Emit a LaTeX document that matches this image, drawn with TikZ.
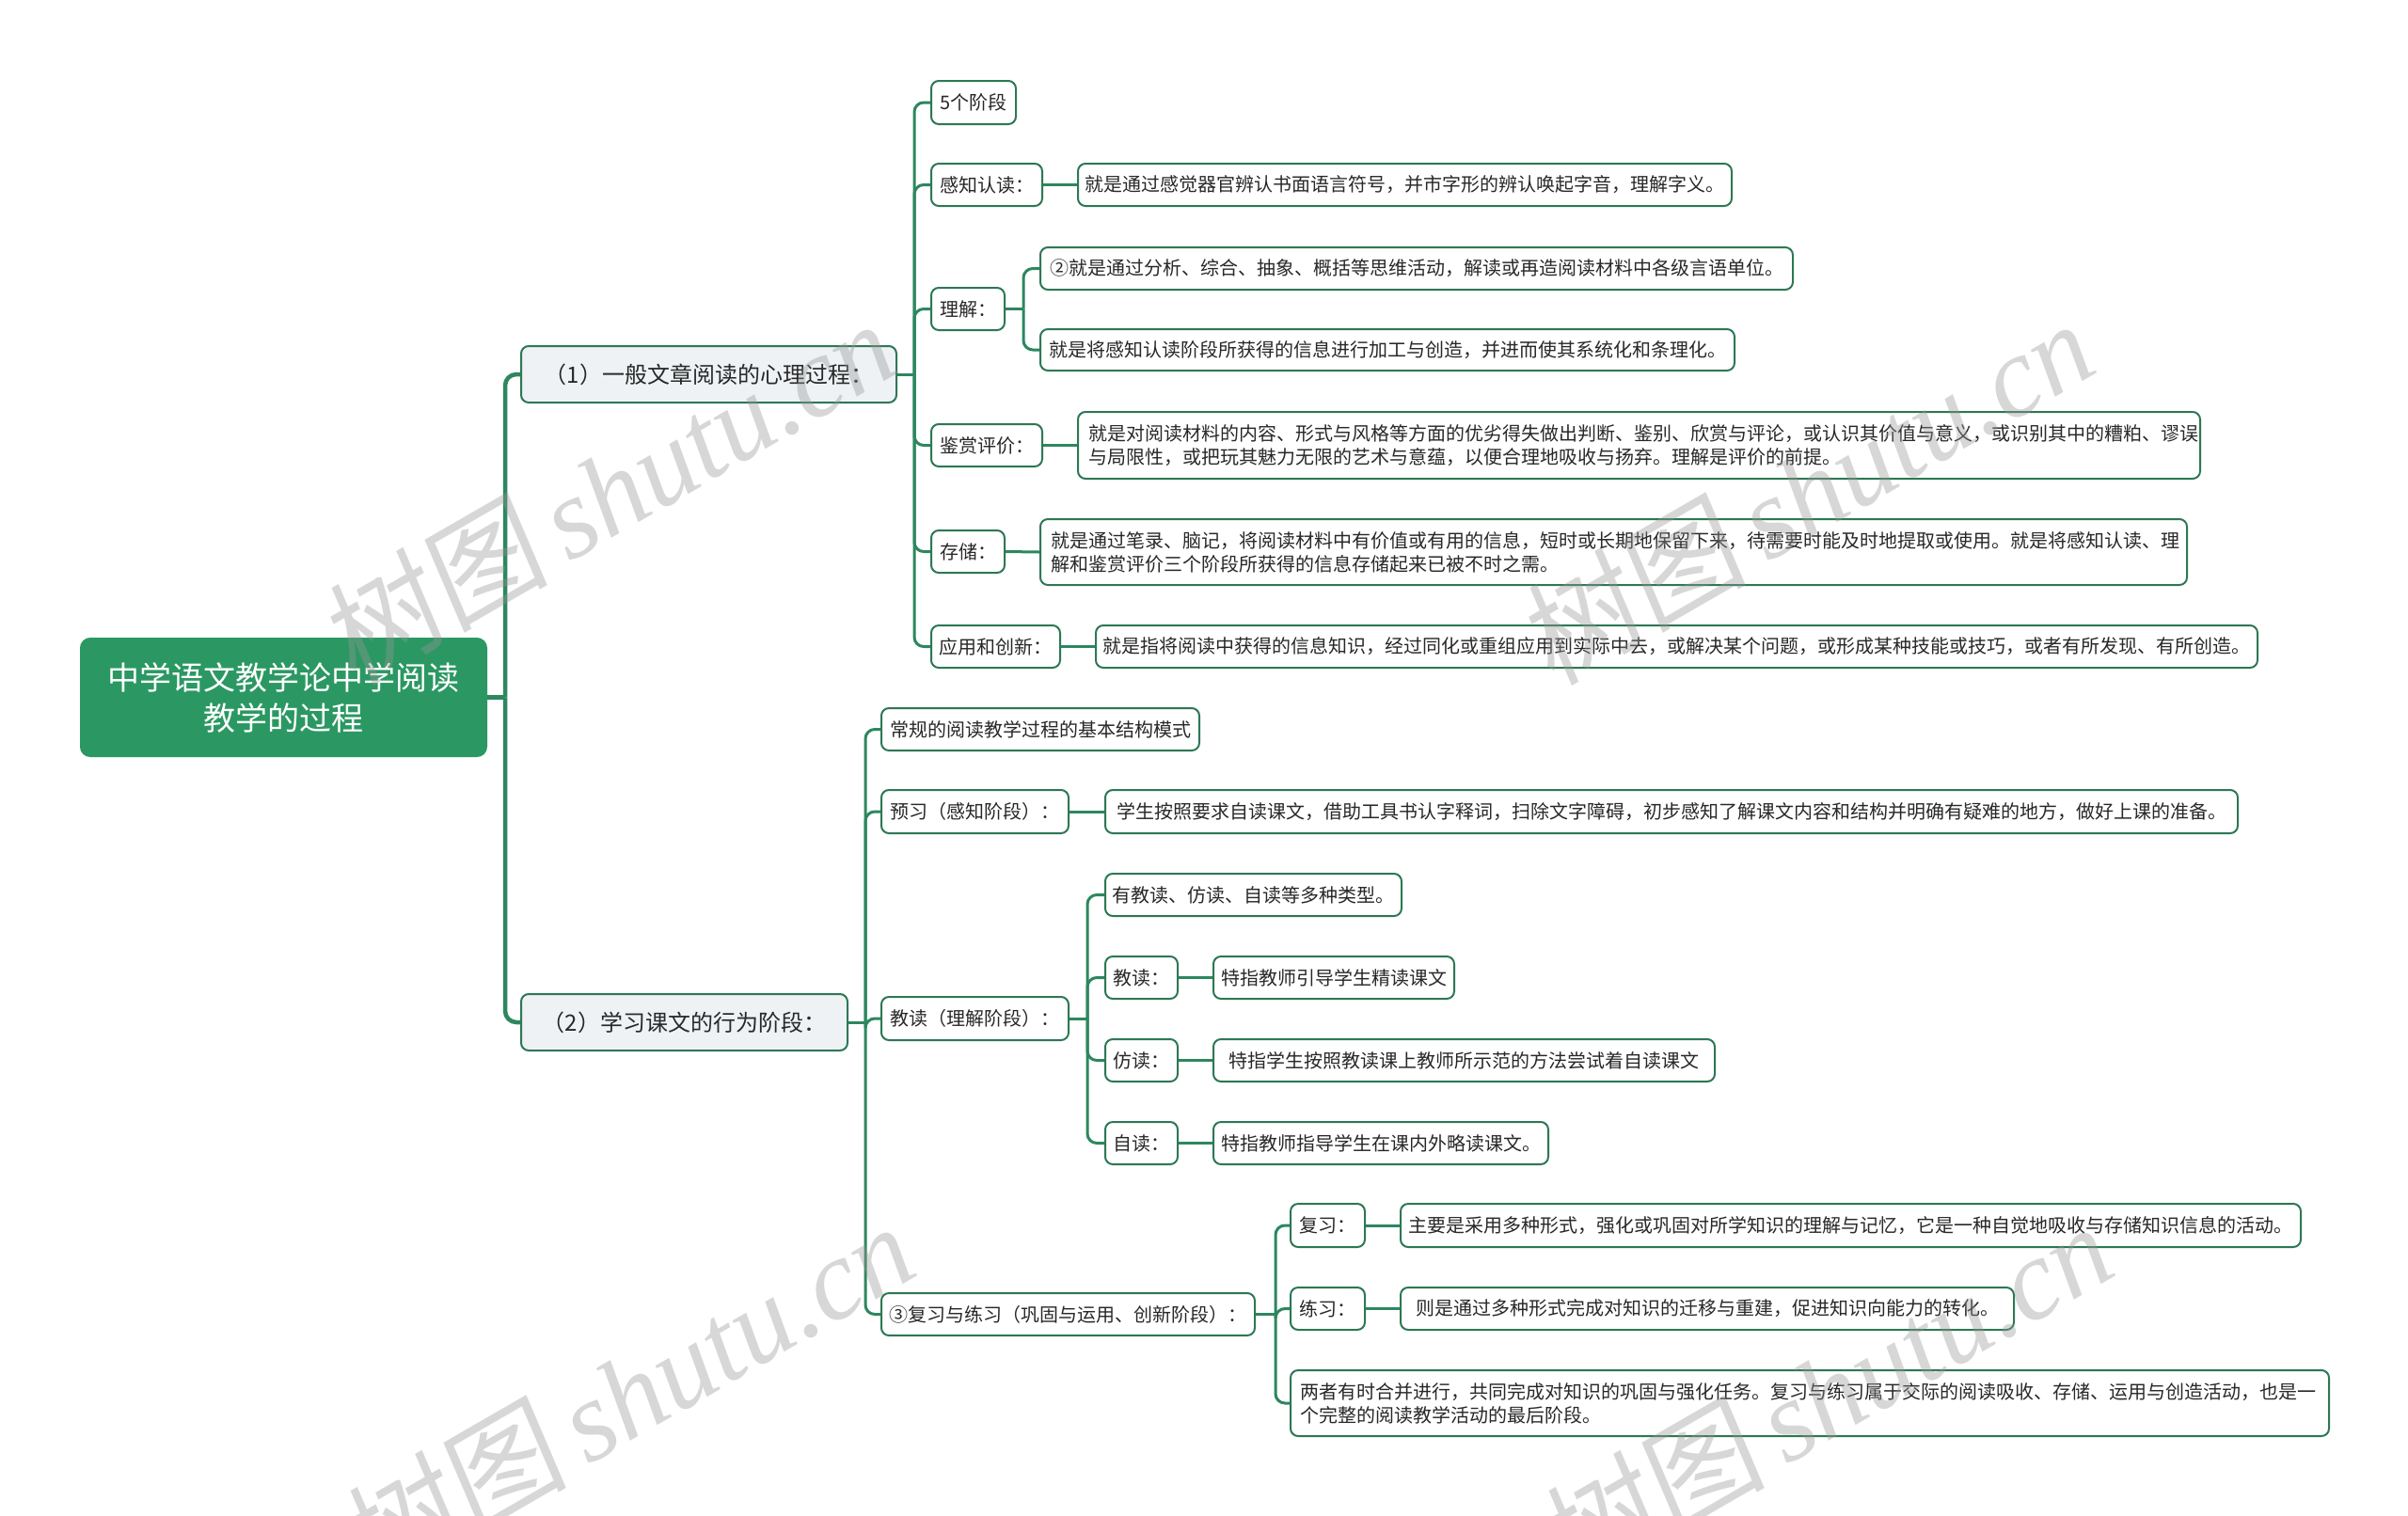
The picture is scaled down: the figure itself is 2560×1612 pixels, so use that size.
\documentclass[tikz,border=0pt]{standalone}
\usepackage{fontspec}
\setmainfont{Noto Sans CJK SC}
\newfontfamily\wmserif{Liberation Serif}
\newfontfamily\wmcjk[FakeSlant=0.12]{Noto Sans CJK SC}
\definecolor{lineg}{RGB}{45,135,95}
\definecolor{boxg}{RGB}{45,120,85}
\definecolor{rootg}{RGB}{43,152,99}
\definecolor{brfill}{RGB}{238,242,245}
\definecolor{txt}{RGB}{40,40,40}
\definecolor{wmgray}{RGB}{150,150,150}
\tikzset{
  conn/.style={draw=lineg, line width=3pt, rounded corners=10pt},
  rconn/.style={conn, line width=4.5pt, rounded corners=12pt},
  box/.style={draw=boxg, line width=2pt, rounded corners=8pt, anchor=north west, inner sep=0pt, text=txt},
  leaf/.style={box, fill=white, font=\fontsize{20}{25}\selectfont},
  branch/.style={box, fill=brfill, font=\fontsize{24}{30}\selectfont},
  rootbox/.style={box, fill=rootg, draw=rootg, text=white, rounded corners=10pt, font=\fontsize{34}{43}\selectfont, align=center},
  wm/.style={text=wmgray, text opacity=0.38, rotate=30, font=\fontsize{122}{122}\selectfont},
}
\begin{document}
\begin{tikzpicture}[x=1pt,y=-1pt]
\useasboundingbox (0,0) rectangle (2560,1612);
\fill[white] (0,0) rectangle (2560,1612);

% root and branches
\node[rootbox, minimum width=431pt, minimum height=125pt] (root) at (85,678) {中学语文教学论中学阅读\\教学的过程};
\node[branch, minimum width=399pt, minimum height=60pt] (b1) at (553,367) {（1）一般文章阅读的心理过程：};
\node[branch, minimum width=347pt, minimum height=60pt] (b2) at (553,1056) {（2）学习课文的行为阶段：};

% branch 1 children
\node[leaf, minimum width=90pt, minimum height=46pt] (c1) at (989,85) {5个阶段};
\node[leaf, minimum width=118pt, minimum height=45pt] (c2) at (989,173) {感知认读：};
\node[leaf, minimum width=695pt, minimum height=45pt] (c2a) at (1145,173) {就是通过感觉器官辨认书面语言符号，并市字形的辨认唤起字音，理解字义。};
\node[leaf, minimum width=78pt, minimum height=45pt] (c3) at (989,305) {理解：};
\node[leaf, minimum width=800pt, minimum height=45pt] (c3a) at (1105,262) {②就是通过分析、综合、抽象、概括等思维活动，解读或再造阅读材料中各级言语单位。};
\node[leaf, minimum width=738pt, minimum height=44pt] (c3b) at (1105,349) {就是将感知认读阶段所获得的信息进行加工与创造，并进而使其系统化和条理化。};
\node[leaf, minimum width=118pt, minimum height=45pt] (c4) at (989,450) {鉴赏评价：};
\node[leaf, minimum width=1193pt, minimum height=71pt] (c4a) at (1145,437) {\parbox{1171pt}{就是对阅读材料的内容、形式与风格等方面的优劣得失做出判断、鉴别、欣赏与评论，或认识其价值与意义，或识别其中的糟粕、谬误\\与局限性，或把玩其魅力无限的艺术与意蕴，以便合理地吸收与扬弃。理解是评价的前提。}};
\node[leaf, minimum width=78pt, minimum height=45pt] (c5) at (989,563) {存储：};
\node[leaf, minimum width=1219pt, minimum height=70pt] (c5a) at (1105,551) {\parbox{1197pt}{就是通过笔录、脑记，将阅读材料中有价值或有用的信息，短时或长期地保留下来，待需要时能及时地提取或使用。就是将感知认读、理\\解和鉴赏评价三个阶段所获得的信息存储起来已被不时之需。}};
\node[leaf, minimum width=137pt, minimum height=45pt] (c6) at (989,664) {应用和创新：};
\node[leaf, minimum width=1235pt, minimum height=45pt] (c6a) at (1164,664) {就是指将阅读中获得的信息知识，经过同化或重组应用到实际中去，或解决某个问题，或形成某种技能或技巧，或者有所发现、有所创造。};

% branch 2 children
\node[leaf, minimum width=338pt, minimum height=45pt] (d1) at (936,752) {常规的阅读教学过程的基本结构模式};
\node[leaf, minimum width=199pt, minimum height=46pt] (d2) at (936,839) {预习（感知阶段）：};
\node[leaf, minimum width=1204pt, minimum height=46pt] (d2a) at (1174,839) {学生按照要求自读课文，借助工具书认字释词，扫除文字障碍，初步感知了解课文内容和结构并明确有疑难的地方，做好上课的准备。};
\node[leaf, minimum width=199pt, minimum height=46pt] (d3) at (936,1059) {教读（理解阶段）：};
\node[leaf, minimum width=315pt, minimum height=45pt] (d3a) at (1174,928) {有教读、仿读、自读等多种类型。};
\node[leaf, minimum width=77pt, minimum height=45pt] (d3b) at (1174,1016) {教读：};
\node[leaf, minimum width=256pt, minimum height=45pt] (d3bl) at (1289,1016) {特指教师引导学生精读课文};
\node[leaf, minimum width=77pt, minimum height=45pt] (d3c) at (1174,1104) {仿读：};
\node[leaf, minimum width=533pt, minimum height=45pt] (d3cl) at (1289,1104) {特指学生按照教读课上教师所示范的方法尝试着自读课文};
\node[leaf, minimum width=77pt, minimum height=45pt] (d3d) at (1174,1192) {自读：};
\node[leaf, minimum width=356pt, minimum height=45pt] (d3dl) at (1289,1192) {特指教师指导学生在课内外略读课文。};
\node[leaf, minimum width=397pt, minimum height=45pt] (d4) at (936,1374) {③复习与练习（巩固与运用、创新阶段）：};
\node[leaf, minimum width=79pt, minimum height=46pt] (d4a) at (1371,1279) {复习：};
\node[leaf, minimum width=957pt, minimum height=46pt] (d4al) at (1488,1279) {主要是采用多种形式，强化或巩固对所学知识的理解与记忆，它是一种自觉地吸收与存储知识信息的活动。};
\node[leaf, minimum width=79pt, minimum height=45pt] (d4b) at (1371,1368) {练习：};
\node[leaf, minimum width=652pt, minimum height=45pt] (d4bl) at (1488,1368) {则是通过多种形式完成对知识的迁移与重建，促进知识向能力的转化。};
\node[leaf, minimum width=1104pt, minimum height=70pt] (d4c) at (1371,1456) {\parbox{1084pt}{两者有时合并进行，共同完成对知识的巩固与强化任务。复习与练习属于交际的阅读吸收、存储、运用与创造活动，也是一\\个完整的阅读教学活动的最后阶段。}};

% connectors: root
\draw[rconn] (root.east) -- ++(19,0) coordinate (jr);
\draw[rconn] (jr) |- (b1.west);
\draw[rconn] (jr) |- (b2.west);

% branch 1
\draw[conn] (b1.east) -- ++(18,0) coordinate (j1);
\foreach \c in {c1,c2,c3,c4,c5,c6} \draw[conn] (j1) |- (\c.west);
\draw[conn] (c2.east) -- (c2a.west);
\draw[conn] (c3.east) -- ++(19,0) coordinate (j3);
\draw[conn] (j3) |- (c3a.west);
\draw[conn] (j3) |- (c3b.west);
\draw[conn] (c4.east) -- (c4a.west);
\draw[conn] (c5.east) -- (c5a.west);
\draw[conn] (c6.east) -- (c6a.west);

% branch 2
\draw[conn] (b2.east) -- ++(18,0) coordinate (j2);
\foreach \c in {d1,d2,d3,d4} \draw[conn] (j2) |- (\c.west);
\draw[conn] (d2.east) -- (d2a.west);
\draw[conn] (d3.east) -- ++(19,0) coordinate (jd3);
\foreach \c in {d3a,d3b,d3c,d3d} \draw[conn] (jd3) |- (\c.west);
\draw[conn] (d3b.east) -- (d3bl.west);
\draw[conn] (d3c.east) -- (d3cl.west);
\draw[conn] (d3d.east) -- (d3dl.west);
\draw[conn] (d4.east) -- ++(21,0) coordinate (jd4);
\foreach \c in {d4a,d4b,d4c} \draw[conn] (jd4) |- (\c.west);
\draw[conn] (d4a.east) -- (d4al.west);
\draw[conn] (d4b.east) -- (d4bl.west);

% watermarks
\node[wm] (wm1) at (645,522) {{\wmcjk 树图}\,{\wmserif\itshape shutu.cn}};
\node[wm] (wm2) at (1919,522) {{\wmcjk 树图}\,{\wmserif\itshape shutu.cn}};
\node[wm] (wm3) at (665,1482) {{\wmcjk 树图}\,{\wmserif\itshape shutu.cn}};
\node[wm] (wm4) at (1939,1482) {{\wmcjk 树图}\,{\wmserif\itshape shutu.cn}};
\end{tikzpicture}
\end{document}
